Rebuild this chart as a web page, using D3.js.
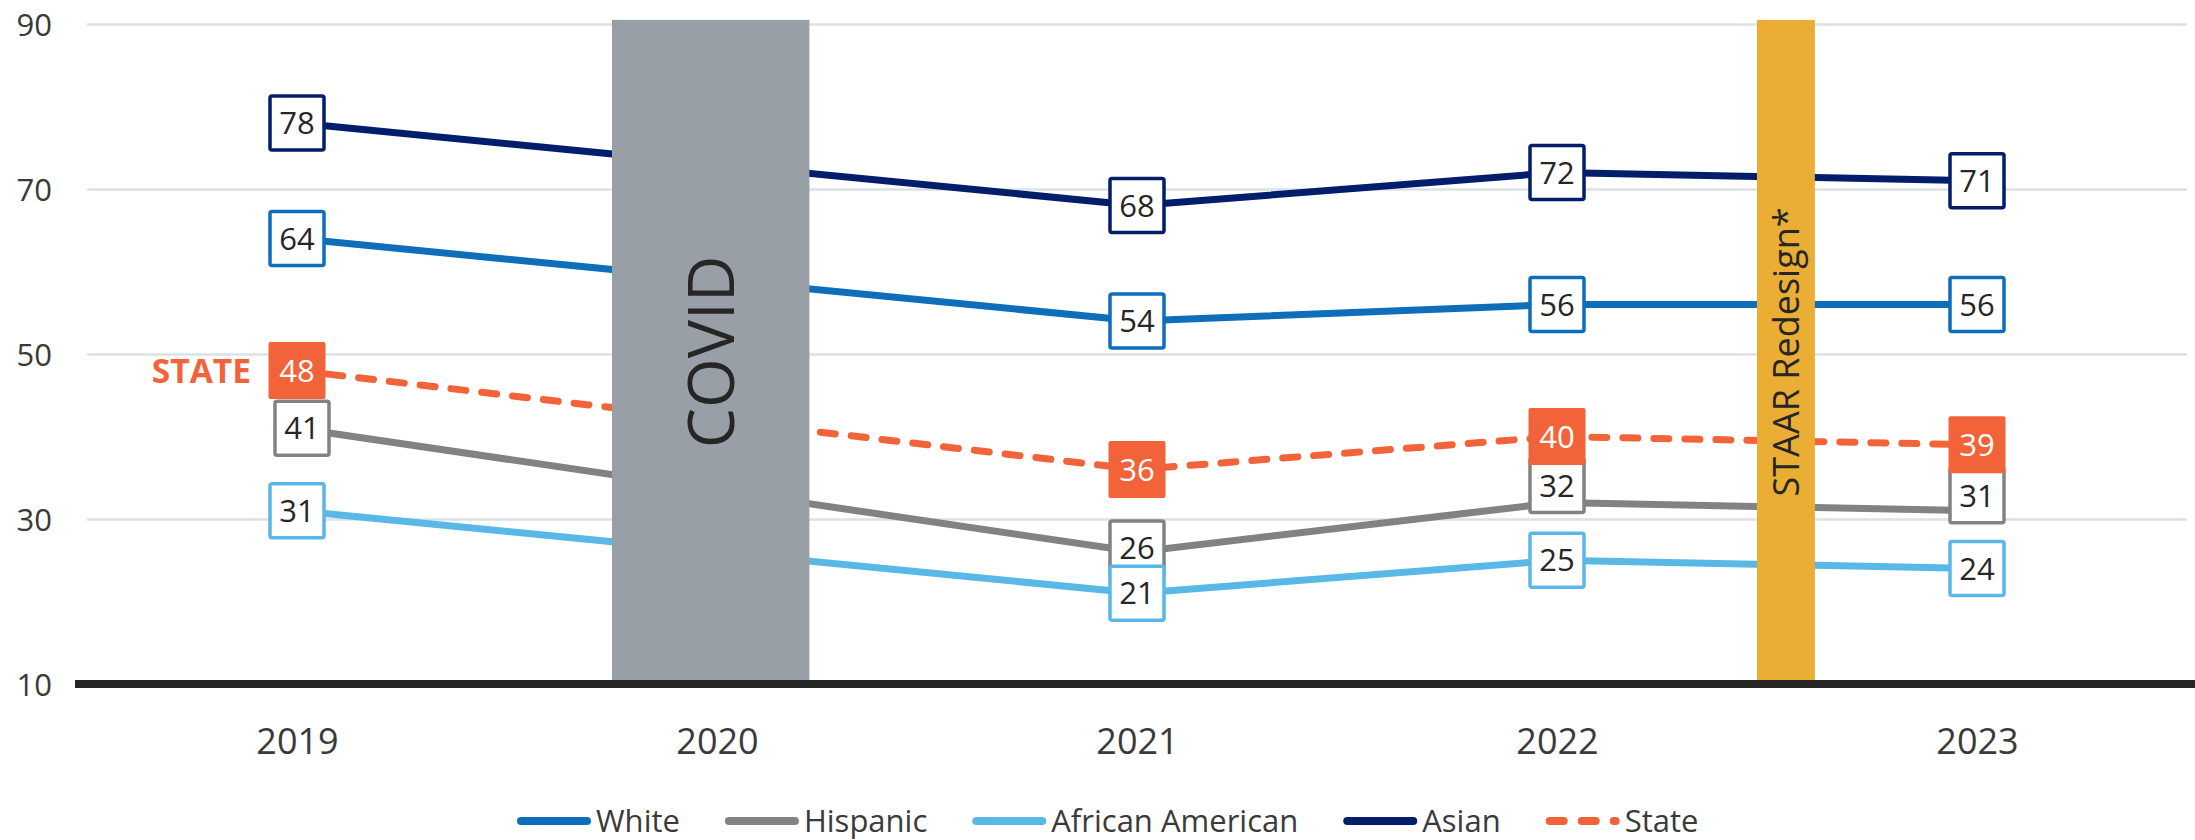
<!DOCTYPE html>
<html>
<head>
<meta charset="utf-8">
<script src="https://cdn.jsdelivr.net/npm/d3@7/dist/d3.min.js"></script>
<style>
body{margin:0;background:#fff;font-family:"Open Sans",sans-serif}
</style>
</head>
<body>
<svg id="chart"></svg>
<script>
// data (2020 has no test data)
let years=[2019,2020,2021,2022,2023]
let yTicks=[10,30,50,70,90]
let white=[64,null,54,56,56]
let hispanic=[41,null,26,32,31]
let africanAmerican=[31,null,21,25,24]
let asian=[78,null,68,72,71]
let state=[48,null,36,40,39]

// shaded periods, in year units
let covidSpan=[2019.75,2020.22]
let staarSpan=[2022.476,2022.614]

let series=[
    {name:"White",values:white,color:"#0e6eba"},
    {name:"Hispanic",values:hispanic,color:"#828282"},
    {name:"African American",values:africanAmerican,color:"#5ab8e6"},
    {name:"Asian",values:asian,color:"#021d69"},
    {name:"State",values:state,color:"#f2633a",dashed:true}
]

// small label nudges where the boxes collide (like excel does)
let nudge={"Hispanic":[[5,0],[0,0],[0,-4],[0,-17],[0,-15]]}

let width=2195,height=840
let svg=d3.select("#chart").attr("width",width).attr("height",height)

let x=d3.scaleLinear().domain([2018.5,2023.5]).range([87,2187])
let y=d3.scaleLinear().domain([10,90]).range([684,24])

//grid and y labels
let yAxis=svg.append("g").attr("transform","translate(87,0)")
    .call(d3.axisLeft(y).tickValues(yTicks).tickSize(-2100).tickPadding(35))
yAxis.select(".domain").remove()
yAxis.selectAll("line").attr("stroke","#dde1e6").attr("stroke-width",2.5)
    .attr("opacity",d=>d==10?0:1)
yAxis.selectAll("text").attr("font-family","Open Sans").attr("font-size",31)
    .attr("fill","#3a3a3a").attr("dy","0.36em")

//x labels
let xAxis=svg.append("g").attr("transform","translate(0,684)")
    .call(d3.axisBottom(x).tickValues(years).tickFormat(d3.format("d")).tickSize(0).tickPadding(44))
xAxis.select(".domain").remove()
xAxis.selectAll("text").attr("font-family","Open Sans").attr("font-size",36)
    .attr("fill","#3a3a3a").attr("dy","0.71em")

//lines, skipping the missing year
let line=d3.line().x(d=>x(d.year)).y(d=>y(d.value))
series.forEach(s=>{
    let pts=years.map((yr,i)=>({year:yr,value:s.values[i]})).filter(d=>d.value!=null)
    svg.append("path").datum(pts).attr("d",line)
        .attr("fill","none").attr("stroke",s.color).attr("stroke-width",7)
        .attr("stroke-linecap",s.dashed?"round":"butt")
        .attr("stroke-dasharray",s.dashed?"15,16":null)
})

//shaded bars on top of the lines
function band(span,color,label,size){
    let x0=x(span[0]),x1=x(span[1])
    svg.append("rect").attr("x",x0).attr("y",y(90.5)).attr("width",x1-x0)
        .attr("height",y(10)-y(90.5)).attr("fill",color)
    let cy=(y(90.5)+y(10))/2
    svg.append("text").attr("transform",`translate(${(x0+x1)/2},${cy}) rotate(-90)`)
        .attr("text-anchor","middle").attr("dy","0.36em")
        .attr("font-size",size).attr("fill","#262626").text(label)
}
band(covidSpan,"#999fa6","COVID",64)
band(staarSpan,"#ebae34","STAAR Redesign*",36)

//value boxes
series.forEach(s=>{
    s.values.forEach((v,i)=>{
        if(v==null) return
        let n=nudge[s.name]?nudge[s.name][i]:[0,0]
        let g=svg.append("g").attr("transform",`translate(${x(years[i])+n[0]},${y(v)+n[1]})`)
        if(s.dashed){
            g.append("rect").attr("x",-28.5).attr("y",-28.5).attr("width",57).attr("height",57)
                .attr("rx",2).attr("fill",s.color)
        }else{
            g.append("rect").attr("x",-27).attr("y",-27).attr("width",54).attr("height",54)
                .attr("rx",2).attr("fill","#fff").attr("stroke",s.color).attr("stroke-width",3.5)
        }
        g.append("text").attr("text-anchor","middle").attr("dy","0.36em")
            .attr("font-size",31).attr("fill",s.dashed?"#fff":"#262626").text(v)
    })
})

svg.append("text").attr("x",x(years[0])-46).attr("y",y(state[0])).attr("dy","0.36em")
    .attr("text-anchor","end").attr("font-size",33.5).attr("font-weight","bold")
    .attr("fill","#f2633a").text("STATE")

//baseline
svg.append("line").attr("x1",75).attr("x2",2195).attr("y1",y(10)).attr("y2",y(10))
    .attr("stroke","#262626").attr("stroke-width",8)

//legend
let legend=svg.append("g").attr("transform","translate(517,821)")
let lx=0
series.forEach(s=>{
    legend.append("line").attr("x1",lx+4).attr("x2",lx+70).attr("y1",0).attr("y2",0)
        .attr("stroke",s.color).attr("stroke-width",8).attr("stroke-linecap","round")
        .attr("stroke-dasharray",s.dashed?"14,18":null)
    let t=legend.append("text").attr("x",lx+79).attr("dy","0.36em")
        .attr("font-size",31).attr("fill","#3a3a3a").text(s.name)
    lx+=79+t.node().getComputedTextLength()+45
})
</script>
</body>
</html>
